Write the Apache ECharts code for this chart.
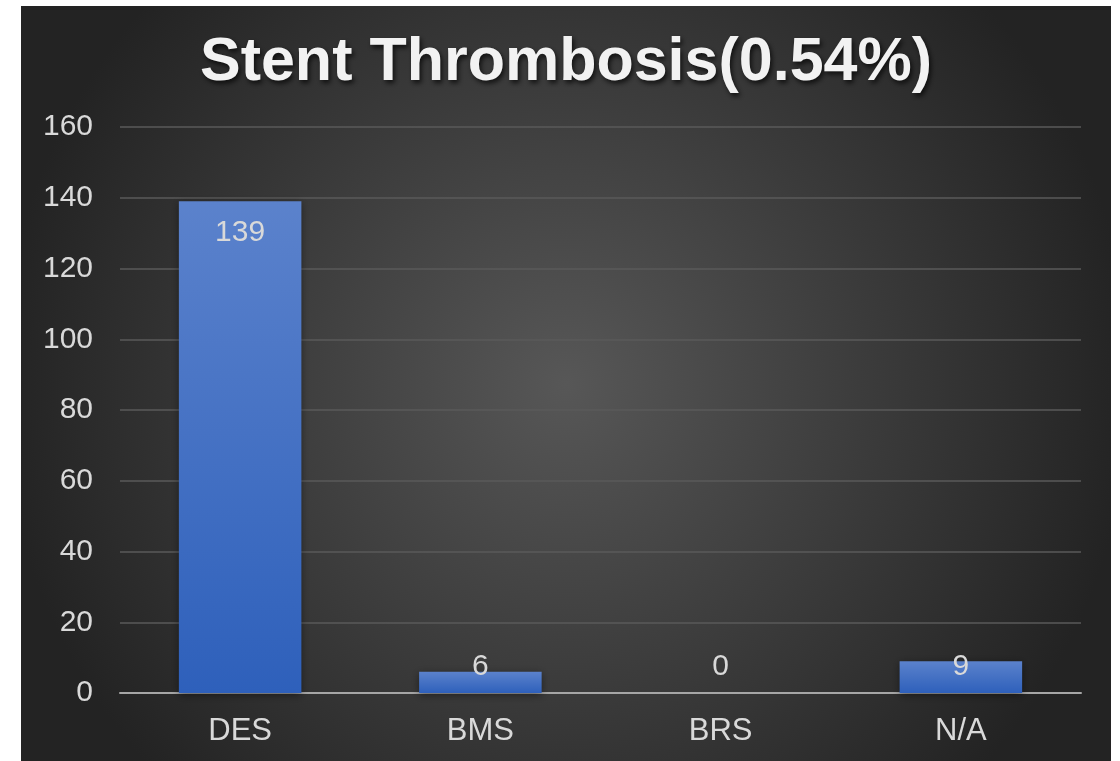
<!DOCTYPE html>
<html>
<head>
<meta charset="utf-8">
<script src="https://cdn.jsdelivr.net/npm/echarts@6/dist/echarts.min.js"></script>
<style>
    html, body { margin: 0; padding: 0; background: #fff; }
    #main { position: absolute; left: 21px; top: 6px; width: 1090px; height: 755px; }
</style>
</head>
<body>
<div id="main"></div>
<script>
const categories = ['DES', 'BMS', 'BRS', 'N/A']
const counts = [139, 6, 0, 9]
const chartTitle = 'Stent Thrombosis(0.54%)'

const labelColor = '#d9d9d9'

// Excel puts the value inside the bar end; short bars get it pushed up
let barData = counts.map(v => {
    let item = { value: v }
    if (v > 20)
        item.label = { position: 'insideTop', distance: 16 }
    else
        item.label = { position: 'insideBottom', distance: 11 }
    return item
})

const chart = echarts.init(document.getElementById('main'))
chart.setOption({
    backgroundColor: {
        type: 'radial', x: 0.5, y: 0.5, r: 0.75,
        colorStops: [
            { offset: 0, color: '#575757' },
            { offset: 1, color: '#232323' },
        ],
    },
    title: {
        text: chartTitle,
        left: 'center',
        top: 22,
        textStyle: {
            fontFamily: 'Liberation Sans',
            fontWeight: 'bold',
            fontSize: 61,
            color: '#f2f2f2',
            textShadowColor: 'rgba(0,0,0,0.7)',
            textShadowBlur: 5,
            textShadowOffsetX: 2,
            textShadowOffsetY: 3,
        },
    },
    grid: { left: 99, right: 30, top: 121, bottom: 68 },
    xAxis: {
        type: 'category',
        data: categories,
        axisTick: { show: false },
        axisLine: { lineStyle: { color: '#a6a6a6', width: 2 } },
        axisLabel: {
            color: labelColor,
            fontFamily: 'Liberation Sans',
            fontSize: 31,
            margin: 23,
        },
    },
    yAxis: {
        type: 'value',
        min: 0,
        max: 160,
        interval: 20,
        axisLine: { show: false },
        axisTick: { show: false },
        splitLine: { lineStyle: { color: '#5a5a5a', width: 1.5 } },
        axisLabel: {
            color: labelColor,
            fontFamily: 'Liberation Sans',
            fontSize: 30,
            margin: 27,
        },
    },
    series: [{
        type: 'bar',
        data: barData,
        barWidth: '51%',
        itemStyle: {
            color: {
                type: 'linear', x: 0, y: 0, x2: 0, y2: 1,
                colorStops: [
                    { offset: 0, color: '#5b82cc' },
                    { offset: 1, color: '#2e60bb' },
                ],
            },
            shadowColor: 'rgba(0,0,0,0.45)',
            shadowBlur: 8,
            shadowOffsetY: 2,
        },
        label: {
            show: true,
            color: labelColor,
            fontFamily: 'Liberation Sans',
            fontSize: 30,
        },
    }],
})
</script>
</body>
</html>
